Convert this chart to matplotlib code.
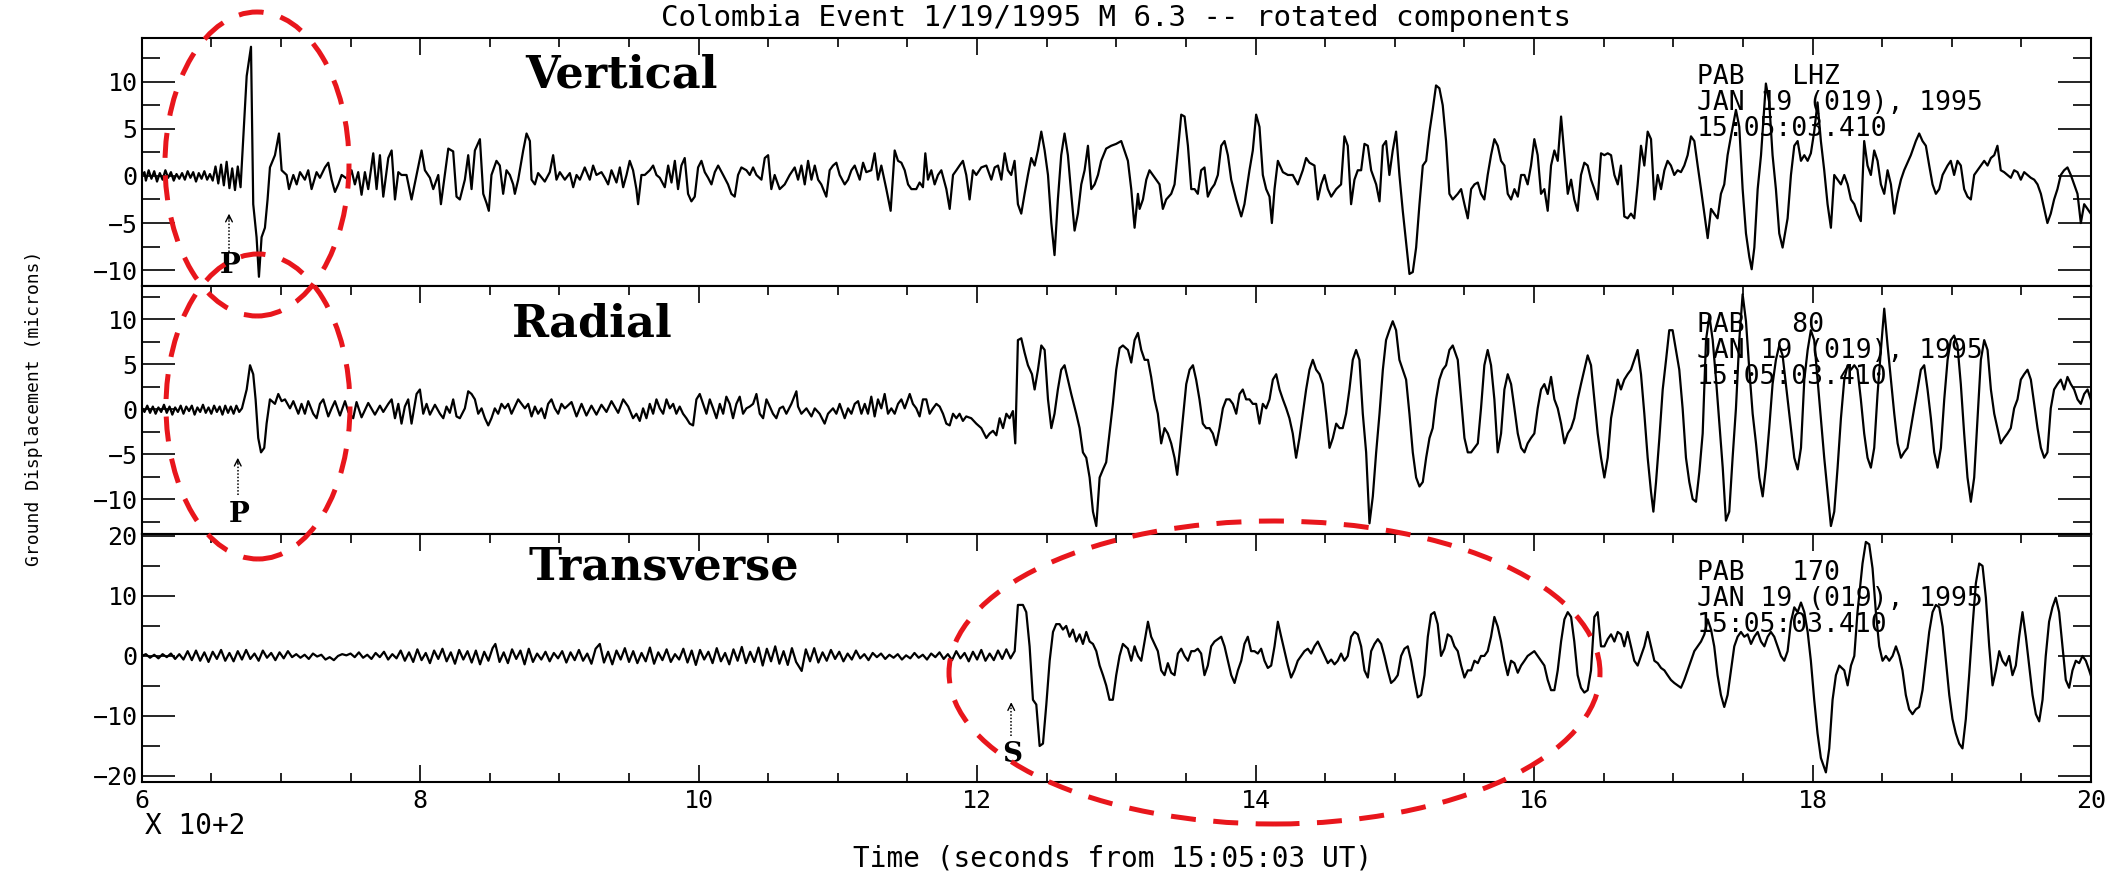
import matplotlib.pyplot as plt
from matplotlib.patches import Ellipse
from matplotlib.ticker import MultipleLocator

# time axis is in units of 100 s ("X 10+2"), displacement in microns

# vertical component (PAB LHZ)
vert_t = [6.00, 6.02, 6.03, 6.05, 6.07, 6.09, 6.11, 6.13, 6.15, 6.17,
          6.19, 6.21, 6.23, 6.25, 6.27, 6.29, 6.31, 6.33, 6.35, 6.37,
          6.39, 6.41, 6.43, 6.45, 6.47, 6.49, 6.51, 6.53, 6.55, 6.57,
          6.59, 6.61, 6.63, 6.65, 6.67, 6.69, 6.71,
          6.754, 6.785, 6.801, 6.825, 6.842, 6.861, 6.885, 6.904, 6.921, 6.957,
          6.986, 7.005, 7.041, 7.058, 7.089, 7.113, 7.137, 7.172, 7.196, 7.220,
          7.256, 7.280, 7.316, 7.340, 7.364, 7.388, 7.412, 7.436, 7.484, 7.507,
          7.531, 7.555, 7.579, 7.603, 7.627, 7.663, 7.687, 7.711, 7.735, 7.771,
          7.795, 7.819, 7.843, 7.866, 7.902, 7.938, 7.974, 8.010, 8.034, 8.070,
          8.094, 8.130, 8.149, 8.177, 8.202, 8.237, 8.261, 8.285, 8.321,
          8.345, 8.369, 8.393, 8.429, 8.453, 8.477, 8.493, 8.512, 8.548, 8.572,
          8.596, 8.620, 8.644, 8.668, 8.680, 8.704, 8.740, 8.764, 8.788, 8.800,
          8.824, 8.847, 8.895, 8.931, 8.955, 8.979, 9.003, 9.039, 9.075, 9.099,
          9.123, 9.147, 9.182, 9.218, 9.242, 9.266, 9.302, 9.326, 9.350, 9.374,
          9.410, 9.434, 9.458, 9.482, 9.505, 9.529, 9.553, 9.565, 9.589, 9.613,
          9.649, 9.673, 9.697, 9.721, 9.757, 9.781, 9.805, 9.829, 9.852, 9.876,
          9.900, 9.924, 9.948, 9.972, 9.996, 10.020, 10.044, 10.068, 10.092, 10.116,
          10.140, 10.176, 10.211, 10.235, 10.259, 10.283, 10.307, 10.343, 10.367, 10.391,
          10.415, 10.451, 10.475, 10.499, 10.522, 10.546, 10.582, 10.618, 10.654, 10.690,
          10.714, 10.738, 10.762, 10.786, 10.810, 10.834, 10.858, 10.881, 10.917, 10.941,
          10.965, 10.989, 11.013, 11.049, 11.073, 11.097, 11.121, 11.157, 11.181, 11.204,
          11.240, 11.264, 11.288, 11.312, 11.348, 11.379, 11.408, 11.432, 11.456, 11.480,
          11.504, 11.528, 11.563, 11.587, 11.611, 11.628, 11.647, 11.671, 11.695, 11.719,
          11.743, 11.779, 11.803, 11.827, 11.851, 11.874, 11.898, 11.922, 11.946, 11.970,
          11.994, 12.030, 12.066, 12.102, 12.126, 12.150, 12.174, 12.198, 12.221, 12.245,
          12.269, 12.293, 12.317, 12.341, 12.365, 12.389, 12.413, 12.437, 12.461, 12.485,
          12.509, 12.533, 12.556, 12.580, 12.604, 12.628, 12.652, 12.676, 12.700, 12.724,
          12.748, 12.772, 12.796, 12.820, 12.844, 12.868, 12.891, 12.927, 12.963, 12.999,
          13.035,
          13.083, 13.107, 13.131, 13.155, 13.167, 13.191, 13.215, 13.238, 13.262, 13.286,
          13.310, 13.334, 13.358, 13.394, 13.418, 13.442, 13.466, 13.490, 13.514, 13.538,
          13.562, 13.585, 13.609, 13.633, 13.657, 13.681, 13.705, 13.729, 13.753, 13.777,
          13.801, 13.825, 13.861, 13.897, 13.920, 13.956, 13.980, 14.004, 14.028, 14.052,
          14.076, 14.100, 14.117, 14.136, 14.160, 14.196, 14.232, 14.267, 14.303, 14.339,
          14.363, 14.387, 14.423, 14.447, 14.471, 14.495, 14.519, 14.543, 14.579, 14.614,
          14.638, 14.662, 14.686, 14.710, 14.734, 14.758, 14.782, 14.806, 14.830, 14.866,
          14.890, 14.914, 14.937, 14.961, 14.985, 15.009, 15.033, 15.057, 15.081, 15.105,
          15.129, 15.153, 15.177, 15.201, 15.225, 15.249, 15.272, 15.296, 15.320, 15.344,
          15.368, 15.392, 15.416,
          15.452, 15.476, 15.500, 15.524, 15.548, 15.572, 15.596, 15.619, 15.643, 15.667,
          15.691, 15.715, 15.739, 15.763, 15.787, 15.811, 15.835, 15.859, 15.883, 15.907,
          15.931, 15.954, 15.978, 16.002, 16.026, 16.050, 16.074, 16.098, 16.122, 16.146,
          16.170, 16.194, 16.218, 16.242, 16.266, 16.289, 16.313, 16.337, 16.361, 16.385,
          16.409, 16.433, 16.457, 16.481, 16.505, 16.529, 16.553, 16.577, 16.601, 16.624,
          16.648, 16.672, 16.696, 16.720, 16.744, 16.768, 16.792, 16.816, 16.840, 16.864,
          16.888, 16.912, 16.936, 16.959, 16.983, 17.007, 17.031, 17.055, 17.079, 17.103,
          17.127, 17.151, 17.175, 17.199, 17.223, 17.247, 17.271, 17.294, 17.318, 17.342,
          17.366, 17.390, 17.414, 17.450, 17.474, 17.498, 17.522, 17.546, 17.563, 17.582,
          17.606, 17.630, 17.649, 17.665, 17.689, 17.713, 17.737, 17.761, 17.785,
          17.821, 17.845, 17.869, 17.893, 17.917, 17.941, 17.965, 17.988, 18.012, 18.036,
          18.060, 18.084, 18.108, 18.132, 18.156, 18.180, 18.204, 18.228, 18.252, 18.276,
          18.300, 18.323, 18.347, 18.371, 18.395, 18.419, 18.443, 18.467, 18.491, 18.515,
          18.539, 18.563, 18.587, 18.611, 18.635, 18.658, 18.706, 18.742, 18.766, 18.790,
          18.814, 18.838, 18.862, 18.886, 18.910, 18.934, 18.970, 18.993, 19.017, 19.041,
          19.065, 19.089, 19.113, 19.137, 19.161, 19.185, 19.209, 19.233, 19.257, 19.281,
          19.305, 19.328, 19.352, 19.376, 19.400, 19.424, 19.448, 19.472, 19.496, 19.520,
          19.544, 19.568, 19.592, 19.616, 19.640, 19.664, 19.687, 19.711, 19.735, 19.759,
          19.783, 19.807, 19.831, 19.855, 19.879, 19.903, 19.927, 19.951, 19.975, 19.998]
vert_v = [0.0, 0.4, -0.5, 0.6, -0.3, 0.5, -0.6, 0.3, -0.4, 0.6,
          -0.2, 0.4, -0.5, 0.2, -0.3, 0.3, -0.4, 0.5, -0.2, 0.4,
          -0.6, 0.3, -0.3, 0.5, -0.4, 0.2, -0.5, 1.0, -0.8, 1.2,
          -1.0, 1.5, -1.3, 0.8, -1.5, 1.0, -1.2,
          10.6, 13.7, -3.0, -6.5, -10.7, -6.5, -5.5, -2.5, 0.9, 2.2,
          4.5, 0.6, 0.1, -1.4, 0.1, -0.9, 0.4, -0.4, 0.6, -1.4,
          0.4, -0.2, 0.9, 1.4, -0.4, -1.7, -0.9, 0.1, -0.4, 0.6,
          -0.9, 0.4, -2.0, 0.4, -1.4, 2.4, -1.4, 2.2, -2.2, 1.9,
          2.7, -2.5, 0.4, 0.1, 0.1, -2.5, 0.1, 2.7, 0.6, -0.2,
          -1.4, 0.1, -3.0, 0.1, 2.9, 2.6, -2.2, -2.5, -0.4,
          2.2, -1.4, 2.7, 3.9, -1.9, -2.9, -3.7, 0.1, 1.6, 1.1,
          -1.9, 0.6, 0.1, -0.9, -1.9, -0.4, 2.7, 4.5, 3.7, -0.4,
          -0.9, 0.3, -0.6, 0.4, 2.2, -0.4, 0.4, -0.4, 0.3, -1.2,
          0.1, -0.4, 0.9, -0.4, 1.1, 0.1, 0.4, -0.2, -0.9, 0.6,
          -0.7, 0.9, -1.2, 0.1, 1.6, 0.6, -1.4, -3.0, 0.1, 0.1,
          0.6, 1.1, 0.1, -0.2, -1.2, 1.1, -0.7, 1.6, -1.4, 1.1,
          1.9, -1.9, -2.7, -2.2, 0.9, 1.6, 0.4, -0.2, -0.9, 0.4,
          1.1, 0.1, -0.9, -1.9, -2.2, 0.1, 0.9, 0.6, 0.1, 0.9,
          0.1, -0.4, 1.9, 2.2, -1.4, 0.1, -1.4, -0.9, 0.1, 0.9,
          -0.4, 1.1, -0.9, 1.6, -0.4, 1.1, -0.4, -0.9, -2.2, 0.6,
          1.1, 1.4, 0.1, -0.9, -0.4, 0.6, 1.1, -0.4, 1.4, 0.4,
          0.6, 2.4, -0.4, 1.1, -1.4, -3.7, 2.7, 1.6, 1.4, 0.6,
          -0.9, -1.4, -1.4, -0.7, -1.2, 2.4, -0.4, 0.6, -0.9, 0.1,
          0.6, -1.4, -3.5, 0.1, 0.6, 1.1, 1.6, 0.1, -2.5, 0.6,
          0.1, 0.9, 1.1, -0.4, 0.9, 1.1, -0.4, 2.4, 0.6, 0.1,
          1.6, -3.0, -4.0, -1.9, 0.1, 1.9, 1.1, 2.7, 4.7, 2.7,
          0.1, -5.0, -8.4, -2.5, 2.2, 4.5, 2.2, -1.9, -5.8, -4.0,
          -0.9, 0.6, 3.2, -1.4, -0.9, 0.1, 1.6, 2.9, 3.2, 3.4,
          3.7,
          1.6, -1.4, -5.5, -1.9, -3.5, -2.5, -0.4, 0.6, 0.1, -0.4,
          -0.9, -3.5, -2.5, -1.9, -0.9, 2.7, 6.5, 6.3, 3.2, -1.4,
          -1.4, -1.9, 0.6, 0.9, -2.2, -1.4, -0.9, 0.1, 3.2, 3.7,
          2.2, -0.4, -2.5, -4.3, -3.0, 0.6, 2.7, 6.5, 5.2, 0.1,
          -1.4, -2.2, -5.0, -1.4, 1.6, 0.4, 0.1, 0.1, -0.9, 0.6,
          1.9, 1.4, 1.1, -2.5, -0.9, 0.1, -1.4, -2.2, -1.4, -0.9,
          4.2, 3.2, -3.0, -0.4, 0.6, 0.6, 3.4, 3.2, 0.6, -0.9,
          -2.7, 3.2, 3.7, 0.1, 2.7, 4.7, 0.1, -3.7, -7.1, -10.4,
          -10.2, -7.6, -3.0, 1.1, 1.6, 4.7, 7.0, 9.6, 9.3, 7.5,
          3.7, -1.9, -2.5,
          -1.9, -1.4, -3.0, -4.5, -1.4, -0.9, -0.7, -1.9, -2.5, 0.1,
          2.2, 3.9, 3.2, 1.6, 1.1, -1.9, -2.5, -1.4, -2.2, 0.1,
          0.1, -0.9, 1.1, 3.9, 2.2, -1.9, -1.4, -3.7, 1.1, 2.7,
          1.6, 6.3, 2.2, -1.9, -0.4, -2.5, -3.7, 0.1, 1.4, 1.1,
          -0.4, -1.4, -2.5, 2.4, 2.2, 2.4, 2.2, 0.1, -0.9, 1.1,
          -4.3, -4.5, -4.0, -4.5, -0.9, 3.2, 1.1, 4.7, 3.9, -2.5,
          0.1, -1.4, 0.6, 1.6, 1.1, 0.1, 0.6, 0.4, 1.1, 2.2,
          4.2, 3.7, 1.1, -1.4, -4.0, -6.6, -3.5, -4.0, -4.5, -1.9,
          -0.9, 2.2, 4.2, 7.0, 5.2, -1.4, -6.1, -8.6, -9.9, -7.6,
          -1.4, 2.2, 6.3, 9.8, 7.8, 2.2, -1.4, -6.1, -7.6,
          -4.5, 0.1, 3.2, 3.7, 1.6, 2.2, 1.6, 2.4, 4.7, 7.8,
          3.7, 0.6, -3.0, -5.5, 0.1, -0.4, -0.9, 0.1, -0.9, -2.5,
          -3.0, -4.0, -4.8, 3.7, 1.1, 0.1, 2.7, 1.6, -0.9, -1.9,
          0.6, -0.9, -4.0, -1.9, -0.4, 0.6, 2.2, 3.7, 4.5, 3.7,
          3.2, 1.1, -0.9, -1.9, -1.4, 0.1, 1.1, 1.6, 0.1, 1.6,
          1.1, -1.4, -2.2, -2.5, 0.1, 0.6, 1.1, 1.6, 1.1, 1.9,
          2.2, 3.2, 0.6, 0.4, 0.1, -0.2, 0.6, 0.4, -0.4, 0.4,
          0.1, -0.2, -0.4, -0.9, -1.9, -3.5, -5.0, -4.0, -2.5, -1.4,
          0.1, 0.6, 0.9, 0.1, -0.9, -1.9, -5.0, -3.0, -3.5, -4.0]

# radial component (PAB 80)
rad_t = [6.00, 6.02, 6.04, 6.06, 6.08, 6.10, 6.12, 6.14, 6.16, 6.18,
         6.20, 6.22, 6.24, 6.26, 6.28, 6.30, 6.32, 6.34, 6.36, 6.38,
         6.40, 6.42, 6.44, 6.46, 6.48, 6.50, 6.52, 6.54, 6.56, 6.58,
         6.60, 6.62, 6.64, 6.66, 6.68, 6.70, 6.72,
         6.754, 6.778, 6.801, 6.818, 6.837, 6.857, 6.880, 6.897, 6.921, 6.957,
         6.981, 7.005, 7.029, 7.065, 7.089, 7.125, 7.148, 7.172, 7.196, 7.232,
         7.256, 7.280, 7.304, 7.340, 7.364, 7.388, 7.424, 7.460, 7.484, 7.519,
         7.543, 7.579, 7.627, 7.675, 7.711, 7.735, 7.771, 7.795, 7.819, 7.843,
         7.866, 7.890, 7.914, 7.938, 7.974, 7.998, 8.022, 8.046, 8.070, 8.106,
         8.142, 8.166, 8.189, 8.213, 8.237, 8.261, 8.285, 8.321,
         8.345, 8.369, 8.393, 8.417, 8.441, 8.465, 8.489, 8.512, 8.536, 8.560,
         8.584, 8.608, 8.632, 8.656, 8.680, 8.704, 8.728, 8.752, 8.776, 8.800,
         8.824, 8.847, 8.871, 8.895, 8.919, 8.943, 8.967, 8.991, 9.015, 9.039,
         9.087, 9.123, 9.159, 9.194, 9.230, 9.266, 9.302, 9.338, 9.374, 9.422,
         9.458, 9.494, 9.529, 9.553, 9.577, 9.601, 9.625, 9.649, 9.673, 9.697,
         9.721, 9.745, 9.769, 9.793, 9.817, 9.840, 9.864, 9.888, 9.912, 9.936,
         9.960, 9.984, 10.008, 10.032, 10.056, 10.080, 10.104, 10.128, 10.152, 10.176,
         10.199, 10.223, 10.247, 10.271, 10.295, 10.319, 10.343, 10.367, 10.391, 10.415,
         10.439, 10.463, 10.487, 10.511, 10.534, 10.558, 10.582, 10.606, 10.630, 10.666,
         10.702,
         10.714, 10.738, 10.774, 10.810, 10.834, 10.869, 10.905, 10.929, 10.965, 10.989,
         11.013, 11.049, 11.073, 11.097, 11.121, 11.145, 11.169, 11.193, 11.216, 11.240,
         11.264, 11.288, 11.312, 11.336, 11.360, 11.384, 11.408, 11.432, 11.456, 11.480,
         11.516, 11.539, 11.563, 11.587, 11.611, 11.635, 11.659, 11.683, 11.707, 11.731,
         11.755, 11.779, 11.803, 11.827, 11.851, 11.874, 11.898, 11.922, 11.958, 11.994,
         12.030, 12.066, 12.090, 12.114, 12.138, 12.162, 12.186, 12.210, 12.233, 12.257,
         12.274, 12.293, 12.317, 12.341, 12.365, 12.394, 12.413, 12.437, 12.461, 12.485,
         12.509, 12.533, 12.556, 12.580, 12.604, 12.628, 12.652, 12.676, 12.712, 12.736,
         12.760, 12.784, 12.808, 12.832, 12.856, 12.880, 12.904, 12.927, 12.951, 12.975,
         12.999, 13.023, 13.047,
         13.083, 13.107, 13.131, 13.155, 13.179, 13.203, 13.227, 13.250, 13.274, 13.298,
         13.322, 13.346, 13.370, 13.394, 13.418, 13.437, 13.454, 13.478, 13.502, 13.526,
         13.550, 13.573, 13.597, 13.621, 13.645, 13.669, 13.693, 13.717, 13.741, 13.765,
         13.789, 13.813, 13.837, 13.861, 13.885, 13.908, 13.932, 13.956, 13.980, 14.004,
         14.028, 14.052, 14.076, 14.100, 14.124, 14.148, 14.172, 14.196, 14.220, 14.243,
         14.267, 14.291, 14.315, 14.339, 14.363, 14.387, 14.411, 14.435, 14.459, 14.483,
         14.507, 14.531, 14.555, 14.579, 14.603, 14.626, 14.650, 14.674, 14.698, 14.722,
         14.746, 14.770, 14.794, 14.818, 14.842, 14.866, 14.890, 14.914, 14.937, 14.961,
         14.985, 15.009, 15.033, 15.057, 15.081, 15.105, 15.129, 15.153, 15.177, 15.201,
         15.225, 15.249, 15.272, 15.296, 15.320, 15.344, 15.368, 15.392, 15.416,
         15.452, 15.476, 15.500, 15.524, 15.548, 15.572, 15.596, 15.619, 15.643, 15.667,
         15.691, 15.715, 15.739, 15.763, 15.787, 15.811, 15.835, 15.859, 15.883, 15.907,
         15.931, 15.954, 15.978, 16.002, 16.026, 16.050, 16.074, 16.098, 16.122, 16.146,
         16.170, 16.194, 16.218, 16.242, 16.266, 16.289, 16.313, 16.337, 16.361, 16.385,
         16.409, 16.433, 16.457, 16.481, 16.505, 16.529, 16.553, 16.577, 16.601, 16.624,
         16.648, 16.672, 16.696, 16.720, 16.744, 16.768, 16.792, 16.816, 16.840, 16.857,
         16.876, 16.900, 16.924, 16.948, 16.971, 16.995, 17.019, 17.043, 17.067, 17.091,
         17.115, 17.139, 17.163, 17.187, 17.211, 17.235, 17.259, 17.283, 17.307, 17.331,
         17.355, 17.378, 17.402, 17.426, 17.450, 17.474, 17.498, 17.522, 17.546, 17.570,
         17.594, 17.618, 17.642, 17.665, 17.689, 17.713, 17.737, 17.761, 17.785,
         17.821, 17.845, 17.869, 17.893, 17.917, 17.941, 17.965, 17.988, 18.012, 18.036,
         18.060, 18.084, 18.108, 18.132, 18.156, 18.180, 18.204, 18.228, 18.252, 18.276,
         18.300, 18.323, 18.347, 18.371, 18.395, 18.419, 18.443, 18.467, 18.491, 18.515,
         18.539, 18.563, 18.587, 18.611, 18.635, 18.658, 18.682, 18.706, 18.730, 18.754,
         18.778, 18.802, 18.826, 18.850, 18.874, 18.898, 18.922, 18.946, 18.970, 18.993,
         19.017, 19.041, 19.065, 19.089, 19.113, 19.137, 19.161, 19.185, 19.209, 19.233,
         19.257, 19.281, 19.305, 19.328, 19.352, 19.376, 19.400, 19.424, 19.448, 19.472,
         19.496, 19.520, 19.544, 19.568, 19.592, 19.616, 19.640, 19.664, 19.687, 19.711,
         19.735, 19.759, 19.783, 19.807, 19.831, 19.855, 19.879, 19.903, 19.927, 19.951,
         19.975, 19.998]
rad_v = [0.2, -0.3, 0.4, -0.4, 0.3, -0.5, 0.2, -0.3, 0.5, -0.4,
         0.3, -0.6, 0.2, -0.3, 0.4, -0.5, 0.3, -0.2, 0.4, -0.6,
         0.2, -0.3, 0.5, -0.4, 0.2, -0.5, 0.4, -0.3, 0.3, -0.6,
         0.4, -0.4, 0.3, -0.5, 0.4, -0.3, 0.1,
         2.2, 4.9, 3.9, 1.1, -3.2, -4.8, -4.3, -1.6, 1.1, 0.6,
         1.7, 0.9, 1.1, 0.1, 0.9, -0.5, 0.6, -0.5, 0.9, -0.5,
         -1.0, 0.6, 1.1, -0.8, 0.1, 0.9, -0.7, 0.9, -0.3, -1.0,
         0.8, -0.9, 0.7, -0.6, 0.4, -0.3, 0.6, 1.1, -1.0, 0.6,
         -1.6, 0.3, 1.1, -1.6, 1.7, 2.2, -0.5, 0.6, -0.6, 0.5,
         -0.5, -1.0, 0.3, -0.4, 1.1, -0.8, -1.0, 0.1,
         2.0, 1.7, 1.1, -0.5, 0.1, -1.0, -1.8, -1.0, 0.1, -0.5,
         0.6, 0.1, 0.6, -0.5, 0.3, 1.1, 0.6, 0.1, 0.6, -0.8,
         0.3, -0.5, 0.1, -1.0, 0.6, 1.1, 0.1, -0.5, 0.6, 0.1,
         0.8, -0.8, 0.6, -0.7, 0.4, -0.6, 0.5, -0.3, 0.9, -0.4,
         1.1, 0.3, -1.0, -0.5, -1.3, 0.1, -1.0, 0.6, -0.5, 1.1,
         0.1, -0.5, 1.1, 0.1, 0.6, -0.5, 0.3, -0.5, -1.0, -1.6,
         -1.8, 1.1, 1.7, 0.6, -0.5, 1.1, 0.1, -1.0, 0.6, -0.5,
         1.4, 0.6, -1.0, 0.6, 1.4, -0.5, 0.1, 0.3, 0.6, 1.7,
         -0.5, -1.0, 1.1, 0.3, -0.5, -1.0, 0.1, 0.3, -0.5, 0.6,
         2.0,
         0.3, -0.5, 0.1, -0.8, 0.1, -0.5, -1.6, -0.5, 0.1, -0.5,
         0.6, -1.0, 0.1, -0.5, 0.6, 0.9, -0.5, 0.6, -0.5, 1.4,
         -0.8, 1.1, 0.1, 1.7, -0.5, 0.1, -0.5, 0.6, 1.1, 0.1,
         1.7, 0.6, 0.1, -0.8, 1.1, 1.1, -0.5, 0.1, 0.6, 0.3,
         -0.5, -1.6, -1.8, -0.5, -1.0, -0.5, -1.3, -0.8, -1.0, -1.6,
         -2.1, -3.2, -2.7, -2.4, -2.9, -1.0, -2.1, -0.5, -1.0, -0.2,
         -3.8, 7.7, 7.9, 6.3, 4.9, 3.9, 2.2, 4.4, 7.1, 6.6,
         1.1, -2.1, -0.5, 2.2, 4.4, 4.9, 3.3, 1.7, -0.5, -2.1,
         -4.8, -5.4, -7.6, -11.4, -13.0, -7.6, -6.7, -5.9, -2.7, 0.6,
         4.4, 6.8, 7.1,
         6.6, 5.2, 7.7, 8.5, 6.6, 5.5, 5.5, 3.6, 1.1, -0.5,
         -3.8, -2.1, -2.7, -3.8, -5.4, -7.3, -4.8, -1.0, 2.8, 4.4,
         4.9, 3.3, 1.1, -1.6, -2.1, -2.1, -2.7, -4.0, -2.1, 0.1,
         1.1, 1.1, 0.6, -0.5, 1.7, 2.2, 1.1, 1.1, 0.6, 0.6,
         -1.6, 0.6, 0.1, 1.1, 3.3, 3.9, 2.2, 1.1, 0.1, -1.0,
         -2.7, -5.4, -3.2, -0.5, 2.2, 4.4, 5.5, 4.4, 3.9, 2.8,
         -0.5, -4.3, -3.2, -1.6, -2.1, -2.1, -0.5, 2.2, 5.5, 6.6,
         5.5, -0.5, -4.8, -12.7, -9.7, -4.8, -0.5, 4.4, 7.7, 8.8,
         9.8, 8.8, 5.5, 4.4, 3.3, -0.5, -4.8, -7.6, -8.6, -8.1,
         -5.4, -3.2, -2.1, 1.1, 3.3, 4.4, 4.9, 6.6, 7.1,
         5.5, 1.1, -3.2, -4.8, -4.8, -4.3, -3.8, 0.1, 4.9, 6.6,
         4.9, 1.1, -4.8, -2.7, 2.2, 3.9, 2.8, 0.1, -2.7, -4.3,
         -4.8, -3.8, -3.2, -2.7, 0.1, 2.2, 2.8, 1.7, 3.6, 1.1,
         0.1, -1.6, -3.8, -2.7, -2.1, -1.0, 1.1, 2.8, 4.4, 6.0,
         4.9, 1.1, -2.7, -5.4, -7.6, -5.4, -1.0, 1.1, 3.3, 2.2,
         3.3, 3.9, 4.4, 5.5, 6.6, 3.9, -0.5, -5.4, -9.2, -11.4,
         -8.1, -3.2, 2.2, 5.5, 8.8, 8.8, 6.6, 4.4, 0.1, -5.4,
         -8.1, -10.0, -10.3, -7.0, -2.7, 7.7, 10.4, 7.7, 3.3, -1.6,
         -6.5, -12.4, -11.4, -5.4, 0.1, 7.7, 12.8, 9.8, 4.4, -0.5,
         -3.8, -7.6, -9.7, -6.5, -2.1, 2.8, 5.5, 7.1, 6.0,
         1.1, -2.1, -5.4, -6.7, -4.3, 3.3, 6.6, 8.8, 7.7, 3.3,
         -1.0, -5.4, -9.2, -13.0, -11.4, -6.5, -1.0, 3.3, 4.9, 4.4,
         4.9, 4.4, 1.1, -2.7, -5.4, -6.5, -4.3, 1.7, 6.6, 11.2,
         7.1, 3.3, -0.5, -3.8, -5.4, -4.8, -4.3, -2.1, 0.1, 2.2,
         4.4, 4.9, 2.2, -1.0, -4.8, -6.5, -4.3, 1.1, 5.5, 7.7,
         8.2, 7.1, 2.8, -2.7, -7.6, -10.3, -7.6, -1.0, 5.5, 7.7,
         6.6, 2.2, -0.5, -2.1, -3.8, -3.2, -2.7, -2.1, 0.1, 1.1,
         3.3, 3.9, 4.4, 3.3, 0.6, -2.1, -4.3, -5.4, -4.8, 0.1,
         2.2, 2.8, 3.3, 2.2, 3.6, 2.8, 2.2, 1.1, 0.6, 1.7,
         2.2, 1.1]

# transverse component (PAB 170)
trans_t = [6.00, 6.03, 6.06, 6.09, 6.12, 6.15, 6.18, 6.21, 6.24, 6.27,
           6.30, 6.33, 6.36, 6.39, 6.42, 6.45, 6.48, 6.51, 6.54, 6.57,
           6.60, 6.63, 6.66, 6.69, 6.72, 6.75, 6.78, 6.81, 6.84, 6.87,
           6.90, 6.93, 6.96, 6.99, 7.02, 7.05, 7.08, 7.11, 7.14, 7.17,
           7.20, 7.23, 7.26, 7.29, 7.32, 7.35, 7.38, 7.41, 7.44, 7.47,
           7.50, 7.53, 7.56, 7.59, 7.62, 7.65, 7.68, 7.71, 7.74, 7.77,
           7.80, 7.83, 7.86, 7.89, 7.92, 7.95, 7.98, 8.01, 8.04, 8.07,
           8.10, 8.13, 8.16, 8.19, 8.22, 8.25, 8.28, 8.31, 8.34, 8.37,
           8.40, 8.43, 8.46, 8.49, 8.52, 8.54, 8.57, 8.60, 8.63, 8.66,
           8.69, 8.72, 8.75, 8.78, 8.81, 8.84, 8.87, 8.90, 8.93, 8.96,
           8.99, 9.02, 9.05, 9.08, 9.11, 9.14, 9.17, 9.20, 9.23, 9.26,
           9.29, 9.32, 9.35, 9.38, 9.41, 9.44, 9.47, 9.50, 9.53, 9.56,
           9.59, 9.62, 9.65, 9.68, 9.71, 9.74, 9.77, 9.80, 9.83, 9.86,
           9.89, 9.92, 9.95, 9.98, 10.01, 10.04, 10.07, 10.10, 10.13, 10.16,
           10.19, 10.22, 10.25, 10.28, 10.31, 10.34, 10.37, 10.40, 10.43, 10.46,
           10.49, 10.52, 10.55, 10.58, 10.61, 10.64, 10.67, 10.70, 10.74, 10.77,
           10.80, 10.83, 10.86, 10.89, 10.92, 10.95, 10.98, 11.01, 11.04, 11.07,
           11.10, 11.13, 11.16, 11.19, 11.22, 11.25, 11.28, 11.31, 11.34, 11.37,
           11.40, 11.43, 11.46, 11.49, 11.52, 11.55, 11.58, 11.61, 11.64, 11.67,
           11.70, 11.73, 11.76, 11.79, 11.82, 11.85, 11.88, 11.91, 11.94, 11.97,
           12.00, 12.03, 12.06, 12.09, 12.12, 12.15, 12.18, 12.21, 12.24, 12.27,
           12.293, 12.329, 12.353, 12.377, 12.401, 12.425, 12.449, 12.473, 12.497, 12.521,
           12.545, 12.568, 12.592, 12.616, 12.640, 12.664, 12.688, 12.712, 12.736, 12.760,
           12.784, 12.808, 12.832, 12.856, 12.880, 12.904, 12.927, 12.951, 12.975, 12.999,
           13.023, 13.047,
           13.083, 13.107, 13.131, 13.155, 13.179, 13.203, 13.227, 13.250, 13.274, 13.298,
           13.322, 13.346, 13.370, 13.394, 13.418, 13.442, 13.466, 13.490, 13.514, 13.538,
           13.562, 13.585, 13.609, 13.633, 13.657, 13.681, 13.705, 13.729, 13.753, 13.777,
           13.801, 13.825, 13.849, 13.873, 13.897, 13.920, 13.944, 13.968, 13.992, 14.016,
           14.040, 14.064, 14.088, 14.112, 14.136, 14.160, 14.184, 14.208, 14.232, 14.255,
           14.279, 14.303, 14.327, 14.351, 14.375, 14.399, 14.423, 14.447, 14.471, 14.495,
           14.519, 14.543, 14.567, 14.590, 14.614, 14.638, 14.662, 14.686, 14.710, 14.734,
           14.758, 14.782, 14.806, 14.830, 14.854, 14.878, 14.902, 14.925, 14.949, 14.973,
           14.997, 15.021, 15.045, 15.069, 15.093, 15.117, 15.141, 15.165, 15.189, 15.213,
           15.237, 15.260, 15.284, 15.308, 15.332, 15.356, 15.380, 15.404, 15.428,
           15.452, 15.476, 15.500, 15.524, 15.548, 15.572, 15.596, 15.619, 15.643, 15.667,
           15.691, 15.715, 15.739, 15.763, 15.787, 15.811, 15.835, 15.859, 15.883, 15.907,
           15.931, 15.954, 15.978, 16.002, 16.026, 16.050, 16.074, 16.098, 16.122, 16.146,
           16.170, 16.194, 16.218, 16.242, 16.266, 16.289, 16.313, 16.337, 16.361, 16.385,
           16.409, 16.433, 16.457, 16.481, 16.505, 16.529, 16.553, 16.577, 16.601, 16.624,
           16.648, 16.672, 16.696, 16.720, 16.744, 16.768, 16.792, 16.816, 16.840, 16.864,
           16.888, 16.912, 16.936, 16.959, 16.983, 17.007, 17.031, 17.055, 17.079, 17.103,
           17.127, 17.151, 17.175, 17.199, 17.223, 17.247, 17.271, 17.294, 17.318, 17.342,
           17.366, 17.390, 17.414, 17.438, 17.462, 17.486, 17.510, 17.534, 17.558, 17.582,
           17.606, 17.630, 17.654, 17.678, 17.701, 17.725, 17.749, 17.773,
           17.797, 17.821, 17.845, 17.869, 17.893, 17.917, 17.941, 17.965, 17.988, 18.012,
           18.036, 18.060, 18.096, 18.120, 18.144, 18.168, 18.192, 18.228, 18.252, 18.276,
           18.300, 18.323, 18.359, 18.383, 18.407, 18.431, 18.455, 18.479, 18.503, 18.527,
           18.551, 18.575, 18.599, 18.623, 18.646, 18.670, 18.694, 18.718, 18.742, 18.766,
           18.790, 18.814, 18.838, 18.862, 18.886, 18.910, 18.934, 18.958, 18.982, 19.005,
           19.029, 19.053, 19.077, 19.101, 19.125, 19.149, 19.173, 19.197, 19.221, 19.245,
           19.269, 19.293, 19.317, 19.341, 19.364, 19.388, 19.412, 19.436, 19.460, 19.484,
           19.508, 19.532, 19.556, 19.580, 19.604, 19.628, 19.652, 19.675, 19.699, 19.723,
           19.747, 19.771, 19.795, 19.819, 19.843, 19.867, 19.891, 19.915, 19.939, 19.963,
           19.987, 19.998]
trans_v = [0.0, 0.3, -0.3, 0.2, -0.4, 0.3, -0.2, 0.4, -0.5, 0.3,
           -0.6, 0.8, -0.7, 0.9, -0.8, 0.6, -1.0, 0.7, -0.5, 1.0,
           -0.8, 0.5, -0.9, 0.8, -0.6, 1.0, -0.5, 0.4, -0.8, 0.9,
           -0.3, 0.5, -0.7, 0.6, -0.4, 0.8, -0.2, 0.3, -0.3, 0.2,
           -0.5, 0.4, -0.1, 0.2, -0.6, -0.2, -0.7, 0.0, 0.3, 0.1,
           0.4, -0.2, 0.6, -0.3, 0.2, -0.5, 0.5, -0.2, 0.7, -0.6,
           0.3, -0.4, 0.9, -0.8, 0.6, -1.0, 1.1, -0.7, 0.5, -1.2,
           0.9, -0.5, 1.2, -0.9, 0.6, -1.3, 1.0, -0.6, 0.8, -1.1,
           0.9, -1.4, 0.7, -0.8, 1.3, 2.0, -1.0, 0.6, -1.2, 1.1,
           -0.5, 0.9, -1.4, 1.2, -1.0, 0.4, -0.6, 0.7, -0.9, 0.5,
           -0.4, 0.8, -1.1, 0.6, -0.7, 1.0, -0.8, 0.4, -1.3, 1.2,
           2.0, -1.1, 0.7, -1.4, 0.9, -0.6, 1.3, -1.0, 0.8, -1.2,
           0.5, -0.9, 1.4, -1.3, 0.6, -0.7, 1.1, -1.0, 0.3, -0.6,
           1.2, -1.1, 0.9, -1.5, 1.0, -0.6, 0.7, -1.2, 1.3, -0.9,
           0.5, -1.4, 1.1, -0.8, 1.5, -1.2, 0.7, -1.0, 1.4, -1.6,
           1.2, -0.9, 1.6, -1.3, 0.8, -1.5, 1.3, -1.0, -2.5, 1.1,
           -0.9, 1.3, -1.1, 0.6, -0.8, 1.0, -0.5, 0.7, -0.9, 0.4,
           -0.6, 0.9, -0.4, 0.3, -0.7, 0.5, -0.2, 0.4, -0.5, 0.2,
           -0.3, 0.3, -0.6, 0.1, -0.4, 0.5, -0.3, 0.2, -0.6, 0.4,
           -0.2, 0.6, -0.5, 0.3, -0.7, 0.8, -0.4, 0.5, -0.9, 0.7,
           -0.6, 1.0, -0.8, 0.4, -0.7, 0.9, -0.5, 1.1, -0.4, 0.8,
           8.5, 8.5, 7.3, 1.6, -7.3, -8.1, -15.0, -14.6, -8.1, -0.8,
           4.0, 5.3, 5.3, 4.4, 5.0, 3.2, 4.4, 2.4, 3.6, 2.0,
           4.0, 2.4, 2.0, 0.8, -1.6, -3.2, -4.9, -7.3, -7.3, -3.2,
           0.0, 2.0,
           1.2, -0.8, 1.6, 0.0, -0.8, 2.4, 5.7, 3.2, 2.0, 0.8,
           -2.4, -3.2, -1.2, -2.8, -3.2, 0.4, 1.2, 0.0, -0.8, 0.8,
           0.8, 1.2, 0.4, -3.2, -1.6, 1.6, 2.4, 2.8, 3.2, 1.6,
           -0.8, -3.2, -4.5, -2.4, -0.8, 2.0, 3.2, 0.8, 0.8, 0.4,
           1.2, -0.8, -2.0, -1.6, 1.6, 5.7, 3.2, 0.8, -1.6, -3.6,
           -2.4, -0.8, 0.0, 0.8, 1.2, 0.4, 1.6, 2.4, 1.2, 0.0,
           -1.2, -0.6, -1.4, -0.8, 0.4, -0.8, 0.0, 3.2, 4.0, 3.6,
           1.6, -2.4, -3.6, 0.8, 2.0, 2.8, 2.0, 0.0, -2.4, -4.5,
           -4.0, -3.2, 0.0, 1.2, 1.6, -0.8, -4.0, -6.9, -6.5, -3.2,
           3.2, 6.9, 7.3, 5.3, 0.0, 1.2, 3.6, 3.2, 1.6,
           0.8, -1.6, -3.6, -2.4, -2.4, -0.8, -1.2, 0.0, 0.0, 0.8,
           3.2, 6.5, 4.9, 2.4, -0.8, -3.2, -0.8, -1.2, -2.8, -1.6,
           -0.8, 0.0, 0.4, 0.8, 0.0, -0.8, -1.6, -4.0, -5.7, -5.7,
           -2.4, 2.4, 6.1, 7.3, 6.5, 2.4, -3.2, -5.3, -6.1, -5.7,
           -2.4, 6.5, 7.3, 1.6, 1.6, 2.8, 3.6, 2.4, 4.0, 3.6,
           1.6, 4.0, 1.6, -0.8, -1.6, 0.0, 1.6, 4.0, 1.6, -0.8,
           -1.2, -2.0, -2.4, -3.2, -4.0, -4.5, -4.9, -5.3, -4.0, -2.4,
           -0.8, 0.8, 1.6, 2.4, 3.6, 6.1, 4.4, 1.6, -3.2, -6.5,
           -8.5, -6.5, -2.4, 1.6, 3.2, 4.0, 3.2, 3.6, 2.0, 3.2,
           4.0, 2.4, 1.6, 3.2, 4.0, 3.2, 1.6, 0.0,
           -0.8, 0.8, 5.7, 8.1, 7.3, 8.9, 7.3, 4.0, -0.8, -7.3,
           -12.9, -17.0, -19.4, -15.4, -7.3, -3.2, -1.6, -2.4, -4.9, -1.6,
           0.0, 7.3, 15.4, 19.0, 18.6, 14.6, 7.3, 1.6, -0.8, 0.0,
           -0.8, 0.0, 1.6, 0.0, -2.4, -6.5, -8.9, -9.7, -8.9, -8.5,
           -5.7, -0.8, 4.0, 7.3, 8.5, 8.1, 4.9, -0.8, -6.5, -10.5,
           -12.9, -14.6, -15.4, -10.5, -3.2, 4.9, 12.1, 15.4, 15.0, 9.7,
           1.6, -4.9, -2.4, 0.8, -0.8, -1.6, 0.0, -3.2, -1.6, 3.2,
           7.3, 3.2, -1.6, -6.5, -9.7, -10.9, -7.3, 0.0, 5.7, 8.1,
           9.7, 7.3, 1.6, -4.0, -5.3, -2.4, -0.8, -1.2, 0.0, -0.8,
           -2.4, -3.2]

components = ['Vertical', 'Radial', 'Transverse']
channels = ['LHZ', '80', '170']
station = 'PAB'
date_line = 'JAN 19 (019), 1995'
time_line = '15:05:03.410'
title = 'Colombia Event 1/19/1995 M 6.3 -- rotated components'

traces = [(vert_t, vert_v), (rad_t, rad_v), (trans_t, trans_v)]
y_limits = [(-11.7, 14.6), (-13.9, 13.7), (-21.0, 20.3)]
y_major = [5, 5, 10]
y_minor = [2.5, 2.5, 5]
label_x = [0.246, 0.231, 0.268]
label_y = [0.852, 0.846, 0.867]
# phase picks: name, time, arrow tail, arrow head, label height
picks = [('P', 6.627, -8.1, -4.0, -9.5),
         ('P', 6.69, -9.6, -5.4, -11.7),
         ('S', 12.245, -13.3, -7.7, -16.4)]

plt.rcParams['font.family'] = ['DejaVu Sans Mono']
W, H = 2123, 874
fig = plt.figure(figsize=(W / 100, H / 100), dpi=100)
axes = fig.subplots(3, 1, sharex=True, gridspec_kw=dict(hspace=0))
fig.subplots_adjust(left=141.7 / W, right=2091 / W, top=1 - 38.3 / H, bottom=1 - 782 / H)

for i, ax in enumerate(axes):
    t, v = traces[i]
    ax.plot(t, v, color='black', lw=1.6, zorder=3)
    ax.set_xlim(6, 20)
    ax.set_ylim(*y_limits[i])
    ax.xaxis.set_major_locator(MultipleLocator(2))
    ax.xaxis.set_minor_locator(MultipleLocator(0.5))
    ax.yaxis.set_major_locator(MultipleLocator(y_major[i]))
    ax.yaxis.set_minor_locator(MultipleLocator(y_minor[i]))
    last = i == 2
    ax.tick_params(which='both', direction='in', top=True, right=True, bottom=last,
                   labelbottom=last, width=1.2, labelsize=18)
    ax.tick_params(axis='y', which='major', length=24, pad=3)
    ax.tick_params(axis='y', which='minor', length=13)
    ax.tick_params(axis='x', which='major', length=12.5, pad=5)
    ax.tick_params(axis='x', which='minor', length=6.5)
    for sp in ax.spines.values():
        sp.set_linewidth(1.5)

    ax.text(label_x[i], label_y[i], components[i], transform=ax.transAxes,
            family='DejaVu Serif', fontweight='bold', fontsize=32,
            ha='center', va='center')

    info = [station + '   ' + channels[i], date_line, time_line]
    for line, yy in zip(info, [0.845, 0.739, 0.633]):
        ax.text(0.798, yy, line, transform=ax.transAxes, fontsize=19,
                ha='left', va='center', zorder=1)

    name, pt, tail, head, ly = picks[i]
    ax.plot([pt, pt], [tail, head - 0.3], color='black', lw=1.1, ls=(0, (1, 1.2)))
    ax.annotate('', xy=(pt, head), xytext=(pt, head - 0.6),
                arrowprops=dict(arrowstyle='->', color='black', lw=1.0,
                                shrinkA=0, shrinkB=0, mutation_scale=12))
    ax.text(pt + 0.01, ly, name, family='DejaVu Serif', fontweight='bold',
            fontsize=20, ha='center', va='center')

fig.text(1116 / W, 1 - 18.5 / H, title, ha='center', va='center', fontsize=21)
fig.text(34.5 / W, 1 - 408 / H, 'Ground Displacement (microns)', rotation=90,
         ha='center', va='center', fontsize=13)
fig.text(145 / W, 1 - 826 / H, 'X 10+2', ha='left', va='center', fontsize=20)
fig.text(1113 / W, 1 - 859 / H, 'Time (seconds from 15:05:03 UT)',
         ha='center', va='center', fontsize=20)

# red dashed highlight ellipses (centre x, centre y, width, height in pixels)
ellipses = [(257, 164, 184, 304), (258, 406.5, 184, 305), (1274.5, 672.5, 651, 303)]
for cx, cy, w, h in ellipses:
    fig.add_artist(Ellipse((cx / W, 1 - cy / H), w / W, h / H, transform=fig.transFigure,
                           fill=False, edgecolor='#e8161c', lw=3.6,
                           linestyle=(0, (5, 3.5)), zorder=10))

fig.savefig('out.png', dpi=100, facecolor='white')
